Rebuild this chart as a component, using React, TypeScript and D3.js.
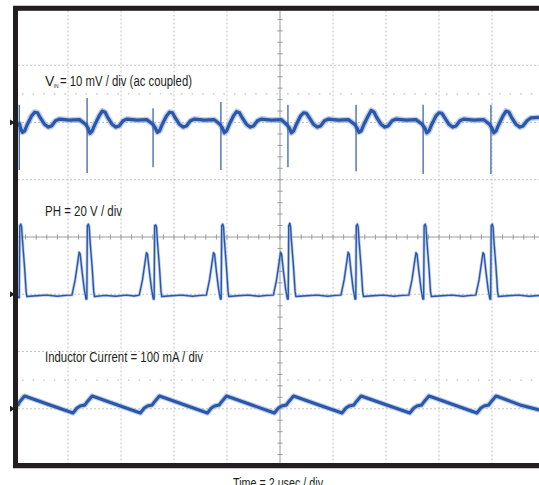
import React from 'react';
import * as d3 from 'd3';

// ---- Data (read from the oscilloscope capture) ----
// Time axis: 2 µs / div, 10 divisions
const TIME_PER_DIV = 2;
const H_DIVS = 10;
const V_DIVS = 8;

// Channel ground markers (divisions from screen centre)
const CH_OFFSETS = { vin: 2, ph: -1, il: -3 };
const VIN_SCALE = 10; // mV / div
const PH_SCALE = 20; // V / div
const IL_SCALE = 100; // mA / div
const CURSOR_LEVELS = [2.5, -2.5]; // divisions

// VIN (ac coupled) ripple, [µs, mV]
const vinTrace: [number, number][] = [
  [0.0, -0.3], [0.1, -0.4], [0.17, -0.2],
  [0.21, -1.0], [0.28, -1.7], [0.36, -1.5], [0.47, -0.3], [0.62, 1.1], [0.74, 1.8], [0.85, 1.7], [0.96, 0.8], [1.11, -0.3], [1.26, -0.8], [1.38, -0.6], [1.53, 0.3], [1.68, 0.6], [2.06, 0.4], [2.43, 0.5], [2.66, -0.3],
  [2.76, -1.0], [2.83, -1.9], [2.91, -1.5], [3.02, -0.3], [3.17, 1.1], [3.29, 2.0], [3.4, 1.8], [3.51, 0.8], [3.66, -0.3], [3.81, -0.8], [3.93, -0.6], [4.08, 0.3], [4.23, 0.6], [4.61, 0.4], [4.98, 0.5], [5.2, -0.3],
  [5.3, -1.0], [5.37, -1.7], [5.45, -1.5], [5.56, -0.3], [5.71, 1.1], [5.83, 1.8], [5.94, 1.7], [6.05, 0.8], [6.2, -0.3], [6.35, -0.8], [6.47, -0.6], [6.62, 0.3], [6.77, 0.6], [7.15, 0.4], [7.52, 0.5], [7.73, -0.3],
  [7.83, -1.0], [7.9, -1.8], [7.98, -1.5], [8.09, -0.3], [8.24, 1.1], [8.36, 1.9], [8.47, 1.7], [8.58, 0.8], [8.73, -0.3], [8.88, -0.8], [9.0, -0.6], [9.15, 0.3], [9.3, 0.6], [9.68, 0.4], [10.05, 0.5], [10.26, -0.4],
  [10.36, -1.0], [10.43, -1.8], [10.51, -1.5], [10.62, -0.3], [10.77, 1.1], [10.89, 1.7], [11.0, 1.6], [11.11, 0.8], [11.26, -0.3], [11.41, -0.8], [11.53, -0.6], [11.68, 0.3], [11.83, 0.6], [12.21, 0.4], [12.58, 0.5], [12.81, -0.3],
  [12.91, -1.0], [12.98, -1.7], [13.06, -1.5], [13.17, -0.3], [13.32, 1.1], [13.44, 2.1], [13.55, 1.8], [13.66, 0.8], [13.81, -0.3], [13.96, -0.8], [14.08, -0.6], [14.23, 0.3], [14.38, 0.6], [14.76, 0.4], [15.13, 0.5], [15.36, -0.3],
  [15.47, -1.0], [15.54, -1.8], [15.62, -1.5], [15.73, -0.3], [15.88, 1.1], [16.0, 1.7], [16.11, 1.6], [16.22, 0.8], [16.37, -0.3], [16.52, -0.8], [16.64, -0.6], [16.79, 0.3], [16.94, 0.6], [17.32, 0.4], [17.69, 0.5], [17.9, -0.3],
  [18.0, -1.0], [18.07, -1.8], [18.15, -1.5], [18.26, -0.3], [18.41, 1.1], [18.53, 2.0], [18.64, 1.8], [18.75, 0.8], [18.9, -0.3], [19.05, -0.8], [19.17, -0.6], [19.32, 0.3], [19.47, 0.8], [19.85, 0.9], [20.0, 0.8],
];

// VIN switching spikes: time [µs], top [mV], bottom [mV]
const vinSpikeTimes = [0.16, 2.72, 5.21, 7.77, 10.3, 12.87, 15.4, 17.96];
const vinSpikeHigh = [3.1, 4.3, 2.5, 3.6, 3.1, 3.1, 3.1, 3.1];
const vinSpikeLow = [-8.3, -8.8, -7.8, -8.3, -7.8, -8.5, -9.0, -9.0];

// PH switch node, [µs, V]
const phTrace: [number, number][] = [
  [0.0, -0.6], [0.1, -0.8], [0.16, -1.2], [0.18, 24.0], [0.22, 24.5], [0.25, 23.5], [0.28, 19.0], [0.36, 9.5], [0.42, 1.0], [0.45, -0.8],
  [0.8, -0.5], [1.2, -0.3], [1.6, -0.7], [1.9, -0.4],
  [2.15, -0.3], [2.27, 5.0], [2.38, 12.0], [2.42, 14.7], [2.46, 14.0], [2.53, 8.0], [2.61, 2.0], [2.68, -1.7], [2.71, -1.7], [2.73, 24.0], [2.77, 24.5], [2.8, 23.5], [2.83, 19.0], [2.91, 9.5], [2.97, 1.0], [3.0, -0.8],
  [3.4, -0.4], [3.8, -0.7], [4.2, -0.3], [4.5, -0.6],
  [4.69, -0.3], [4.81, 5.0], [4.92, 12.0], [4.96, 14.5], [5.0, 14.0], [5.07, 8.0], [5.15, 2.0], [5.22, -1.7], [5.25, -1.7], [5.27, 24.0], [5.31, 24.2], [5.34, 23.5], [5.37, 19.0], [5.45, 9.5], [5.51, 1.0], [5.54, -0.8],
  [5.9, -0.5], [6.3, -0.3], [6.7, -0.7], [7.0, -0.4],
  [7.22, -0.3], [7.34, 5.0], [7.45, 12.0], [7.49, 14.5], [7.53, 14.0], [7.6, 8.0], [7.68, 2.0], [7.75, -1.7], [7.78, -1.7], [7.8, 24.0], [7.84, 24.5], [7.87, 23.5], [7.9, 19.0], [7.98, 9.5], [8.04, 1.0], [8.07, -0.8],
  [8.4, -0.5], [8.8, -0.3], [9.2, -0.7], [9.5, -0.4],
  [9.75, -0.3], [9.87, 5.0], [9.98, 12.0], [10.02, 14.7], [10.06, 14.0], [10.13, 8.0], [10.21, 2.0], [10.28, -1.7], [10.31, -1.7], [10.33, 24.0], [10.37, 24.8], [10.4, 23.5], [10.43, 19.0], [10.51, 9.5], [10.57, 1.0], [10.6, -0.8],
  [11.0, -0.5], [11.4, -0.3], [11.8, -0.7], [12.1, -0.4],
  [12.3, -0.3], [12.42, 5.0], [12.53, 12.0], [12.57, 14.7], [12.61, 14.0], [12.68, 8.0], [12.76, 2.0], [12.83, -1.7], [12.86, -1.7], [12.88, 24.0], [12.92, 24.5], [12.95, 23.5], [12.98, 19.0], [13.06, 9.5], [13.12, 1.0], [13.15, -0.8],
  [13.5, -0.5], [13.9, -0.3], [14.3, -0.7], [14.6, -0.4],
  [14.86, -0.3], [14.98, 5.0], [15.09, 12.0], [15.13, 14.5], [15.17, 14.0], [15.24, 8.0], [15.32, 2.0], [15.39, -1.7], [15.42, -1.7], [15.44, 24.0], [15.48, 24.5], [15.51, 23.5], [15.54, 19.0], [15.62, 9.5], [15.68, 1.0], [15.71, -0.8],
  [16.1, -0.5], [16.5, -0.3], [16.9, -0.7], [17.2, -0.4],
  [17.39, -0.3], [17.51, 5.0], [17.62, 12.0], [17.66, 14.5], [17.7, 14.0], [17.77, 8.0], [17.85, 2.0], [17.92, -1.7], [17.95, -1.7], [17.97, 24.0], [18.01, 24.5], [18.04, 23.5], [18.07, 19.0], [18.15, 9.5], [18.21, 1.0], [18.24, -0.8],
  [18.6, -0.5], [19.0, -0.3], [19.4, -0.7], [19.8, -0.4], [20.0, -0.5],
];

// Inductor current, [µs, mA]
const ilTrace: [number, number][] = [
  [0.0, 4.0], [0.11, 6.6], [0.17, 11.8], [0.36, 22.3], [0.47, 20.5], [1.32, 6.5],
  [2.19, -7.4], [2.34, 1.3], [2.46, 4.8], [2.64, 6.6], [2.72, 11.8], [2.91, 22.3], [3.02, 20.5], [3.87, 6.5],
  [4.73, -7.4], [4.88, 1.3], [5.0, 4.8], [5.18, 6.6], [5.26, 11.8], [5.45, 22.3], [5.56, 20.5], [6.41, 6.5],
  [7.26, -7.4], [7.41, 1.3], [7.53, 4.8], [7.71, 6.6], [7.79, 11.8], [7.98, 22.3], [8.09, 20.5], [8.94, 6.5],
  [9.79, -7.4], [9.94, 1.3], [10.06, 4.8], [10.24, 6.6], [10.32, 11.8], [10.51, 22.3], [10.62, 20.5], [11.47, 6.5],
  [12.34, -7.4], [12.49, 1.3], [12.61, 4.8], [12.79, 6.6], [12.87, 11.8], [13.06, 22.3], [13.17, 20.5], [14.03, 6.5],
  [14.9, -7.4], [15.05, 1.3], [15.17, 4.8], [15.35, 6.6], [15.43, 11.8], [15.62, 22.3], [15.73, 20.5], [16.58, 6.5],
  [17.43, -7.4], [17.58, 1.3], [17.7, 4.8], [17.88, 6.6], [17.96, 11.8], [18.15, 22.3], [18.26, 20.5], [19.1, 6.0], [19.8, -2.2],
];

const LABEL_FONT = "'Liberation Sans Narrow', 'Arial Narrow', 'Liberation Sans', Arial, sans-serif";
const TEXT_COLOR = '#231f20';
const TRACE = '#2a57a8';
const TRACE_LIGHT = '#9fb6e0';
const GRID = '#c4c4c4';
const AXIS = '#9a9a9a';
const FRAME = '#231f20';

export default function App() {
  const x = d3.scaleLinear().domain([0, H_DIVS * TIME_PER_DIV]).range([15, 545]);
  const yDiv = d3.scaleLinear().domain([V_DIVS / 2, -V_DIVS / 2]).range([8, 466]);
  const divX = d3.scaleLinear().domain([0, H_DIVS]).range([15, 545]);

  const yVin = (mv: number) => yDiv(CH_OFFSETS.vin + mv / VIN_SCALE);
  const yPh = (v: number) => yDiv(CH_OFFSETS.ph + v / PH_SCALE);
  const yIl = (ma: number) => yDiv(CH_OFFSETS.il + ma / IL_SCALE);

  const lineVin = d3.line<[number, number]>().x(d => x(d[0])).y(d => yVin(d[1]));
  const linePh = d3.line<[number, number]>().x(d => x(d[0])).y(d => yPh(d[1]));
  const lineIl = d3.line<[number, number]>().x(d => x(d[0])).y(d => yIl(d[1]));

  const plotLeft = 18, plotTop = 10.5, plotRight = 539, plotBottom = 463;
  const cx = divX(H_DIVS / 2);
  const cy = yDiv(0);

  const vGrid = d3.range(1, H_DIVS).filter(i => i !== H_DIVS / 2);
  const hGrid = d3.range(-V_DIVS / 2 + 1, V_DIVS / 2).filter(j => j !== 0);
  const hMinor = d3.range(0, H_DIVS * 5 + 1).map(i => i / 5);
  const vMinor = d3.range(-V_DIVS / 2 * 5, V_DIVS / 2 * 5 + 1).map(i => i / 5);

  return (
    <svg width={539} height={485} style={{ position: 'absolute', left: 0, top: 0, display: 'block', background: '#fff' }}>
      <defs>
        <clipPath id="plot">
          <rect x={plotLeft} y={plotTop} width={plotRight - plotLeft} height={plotBottom - plotTop} />
        </clipPath>
      </defs>
      <g clipPath="url(#plot)">
        {vGrid.map(i => (
          <line key={'vg' + i} x1={divX(i)} x2={divX(i)} y1={plotTop} y2={plotBottom} stroke={GRID} strokeWidth={1} strokeDasharray="2 2" />
        ))}
        {hGrid.map(j => (
          <line key={'hg' + j} x1={plotLeft} x2={plotRight} y1={yDiv(j)} y2={yDiv(j)} stroke={GRID} strokeWidth={1} strokeDasharray="2 2" />
        ))}
        {CURSOR_LEVELS.map(c => (
          <line key={'cur' + c} x1={22} x2={plotRight} y1={yDiv(c)} y2={yDiv(c)} stroke="#b0b0b0" strokeWidth={1} strokeDasharray="1.5 9.1" />
        ))}
        <line x1={cx} x2={cx} y1={plotTop} y2={plotBottom} stroke={AXIS} strokeWidth={1} />
        <line x1={plotLeft} x2={plotRight} y1={cy} y2={cy} stroke={AXIS} strokeWidth={1} />
        {vMinor.map(v => (
          <line key={'vm' + v} x1={cx - 2.5} x2={cx + 2.5} y1={yDiv(v)} y2={yDiv(v)} stroke={AXIS} strokeWidth={1} />
        ))}
        {hMinor.map(h => (
          <line key={'hm' + h} x1={divX(h)} x2={divX(h)} y1={cy - 2.5} y2={cy + 2.5} stroke={AXIS} strokeWidth={1} />
        ))}

        {/* VIN */}
        <path d={lineVin(vinTrace) || ''} fill="none" stroke={TRACE_LIGHT} strokeWidth={6} strokeLinejoin="round" opacity={0.7} />
        <path d={lineVin(vinTrace) || ''} fill="none" stroke={TRACE} strokeWidth={3.2} strokeLinejoin="round" />
        {vinSpikeTimes.map((t, i) => (
          <line key={'sp' + i} x1={x(t)} x2={x(t)} y1={yVin(vinSpikeHigh[i])} y2={yVin(vinSpikeLow[i])} stroke={TRACE} strokeWidth={1.2} />
        ))}

        {/* PH */}
        <path d={linePh(phTrace) || ''} fill="none" stroke={TRACE_LIGHT} strokeWidth={3} strokeLinejoin="round" opacity={0.7} />
        <path d={linePh(phTrace) || ''} fill="none" stroke={TRACE} strokeWidth={1.4} strokeLinejoin="round" />

        {/* Inductor current */}
        <path d={lineIl(ilTrace) || ''} fill="none" stroke={TRACE_LIGHT} strokeWidth={5.5} strokeLinejoin="round" opacity={0.7} />
        <path d={lineIl(ilTrace) || ''} fill="none" stroke={TRACE} strokeWidth={3} strokeLinejoin="round" />
      </g>

      {/* frame */}
      <line x1={13} x2={539} y1={5.5} y2={5.5} stroke="#c8c8c8" strokeWidth={1} />
      <line x1={13} x2={539} y1={468.5} y2={468.5} stroke="#c8c8c8" strokeWidth={1} />
      <rect x={13} y={6} width={526} height={4.8} fill={FRAME} />
      <rect x={13} y={463} width={526} height={5} fill={FRAME} />
      <rect x={13} y={6} width={5} height={462} fill={FRAME} />

      {/* channel ground markers */}
      {[CH_OFFSETS.vin, CH_OFFSETS.ph, CH_OFFSETS.il].map(o => (
        <path key={'mk' + o} d={`M10,${yDiv(o) - 3}L15,${yDiv(o)}L10,${yDiv(o) + 3}Z`} fill={FRAME} />
      ))}

      {/* labels */}
      <g fontFamily={LABEL_FONT} fill={TEXT_COLOR}>
        <text x={45} y={86} fontSize={14}>V</text>
        <text x={53.5} y={88} fontSize={5}>IN</text>
        <text x={60} y={86} fontSize={14} textLength={132} lengthAdjust="spacingAndGlyphs">= 10 mV / div (ac coupled)</text>
        <text x={45} y={216} fontSize={14} textLength={77} lengthAdjust="spacingAndGlyphs">PH = 20 V / div</text>
        <text x={45} y={362} fontSize={14} textLength={158} lengthAdjust="spacingAndGlyphs">Inductor Current = 100 mA / div</text>
        <text x={233} y={488} fontSize={14} textLength={90} lengthAdjust="spacingAndGlyphs">Time = 2 usec / div</text>
      </g>
    </svg>
  );
}
